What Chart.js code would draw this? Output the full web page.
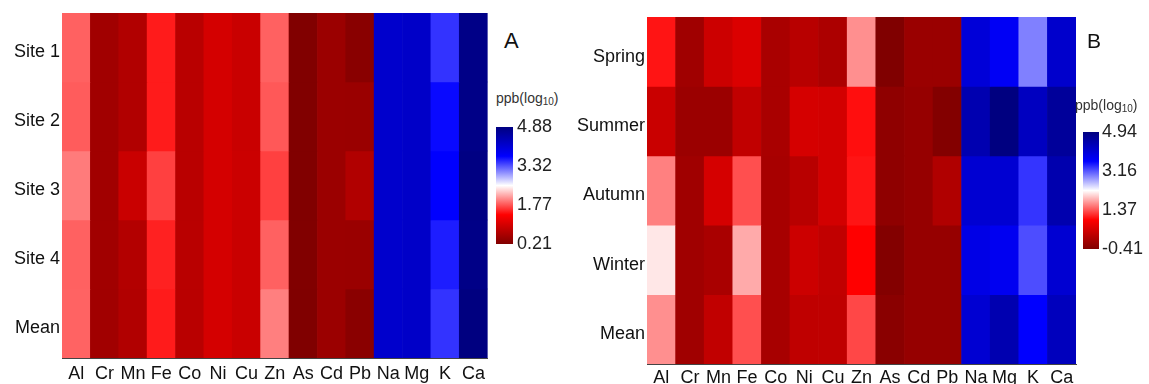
<!DOCTYPE html>
<html>
<head>
<meta charset="utf-8">
<script src="https://cdn.jsdelivr.net/npm/chart.js@4"></script>
<style>
  body { margin: 0; background: #fff; font-family: "Liberation Sans", Arial, sans-serif; }
  #wrap { position: relative; width: 1149px; height: 384px; overflow: hidden; }
  canvas, .txt { position: absolute; }
  .panel { line-height: 1; color: #111; }
  .unit { font-size: 14px; line-height: 1; color: #333; white-space: nowrap; }
  .unit span { font-size: 10px; vertical-align: -2px; }
</style>
</head>
<body>
<div id="wrap">
  <canvas id="heatA" width="490" height="384" style="left:0;top:0"></canvas>
  <canvas id="barA" width="70" height="150" style="left:496px;top:110px"></canvas>
  <canvas id="heatB" width="520" height="384" style="left:560px;top:0"></canvas>
  <canvas id="barB" width="66" height="150" style="left:1083px;top:115px"></canvas>
  <div class="txt panel" style="left:504px;top:30px;font-size:22px">A</div>
  <div class="txt panel" style="left:1087px;top:30px;font-size:21px">B</div>
  <div class="txt unit" style="left:496px;top:91px">ppb(log<span>10</span>)</div>
  <div class="txt unit" style="left:1075px;top:98px">ppb(log<span>10</span>)</div>
</div>
<script>
const elements = ['Al', 'Cr', 'Mn', 'Fe', 'Co', 'Ni', 'Cu', 'Zn', 'As', 'Cd', 'Pb', 'Na', 'Mg', 'K', 'Ca'];

// panel A - sites
const sites = ['Site 1', 'Site 2', 'Site 3', 'Site 4', 'Mean'];
const site1 = [1.82, 0.51, 0.66, 1.50, 0.73, 0.98, 0.88, 1.82, 0.22, 0.46, 0.29, 4.18, 4.22, 3.48, 4.82];
const site2 = [1.80, 0.51, 0.66, 1.50, 0.73, 0.98, 0.88, 1.78, 0.22, 0.46, 0.45, 4.18, 4.22, 3.67, 4.82];
const site3 = [1.94, 0.51, 0.88, 1.67, 0.73, 0.98, 0.90, 1.67, 0.22, 0.46, 0.66, 4.18, 4.22, 3.72, 4.85];
const site4 = [1.82, 0.51, 0.68, 1.53, 0.73, 0.98, 0.88, 1.82, 0.22, 0.46, 0.45, 4.18, 4.22, 3.58, 4.82];
const siteMean = [1.83, 0.51, 0.66, 1.50, 0.73, 0.98, 0.88, 1.96, 0.21, 0.46, 0.30, 4.18, 4.22, 3.48, 4.88];
const scaleA = [0.21, 1.77, 3.32, 4.88];

// panel B - seasons
const seasons = ['Spring', 'Summer', 'Autumn', 'Winter', 'Mean'];
const spring = [1.03, -0.07, 0.39, 0.55, 0.02, 0.18, 0.05, 1.68, -0.41, -0.14, -0.14, 4.01, 3.71, 2.93, 4.14];
const summer = [0.36, -0.13, -0.13, 0.27, 0.02, 0.48, 0.45, 1.00, -0.25, -0.18, -0.38, 4.43, 4.94, 4.27, 4.67];
const autumn = [1.60, -0.07, 0.48, 1.34, 0.00, 0.18, 0.45, 1.03, -0.25, -0.18, 0.10, 4.08, 4.08, 3.33, 4.46];
const winter = [2.14, -0.07, 0.02, 1.82, 0.00, 0.39, 0.27, 0.93, -0.38, -0.18, -0.18, 3.87, 3.75, 3.20, 4.08];
const seasonMean = [1.68, -0.07, 0.27, 1.34, 0.00, 0.25, 0.25, 1.30, -0.30, -0.18, -0.18, 4.08, 4.43, 3.60, 4.30];
const scaleB = [-0.41, 1.37, 3.16, 4.94];

// dark red -> red -> white -> blue -> navy
const stops = [[0, [128, 0, 0]], [0.25, [255, 0, 0]], [0.5, [255, 255, 255]], [0.75, [0, 0, 255]], [1, [0, 0, 128]]];

function colorFor(v, lo, hi) {
  let t = Math.min(1, Math.max(0, (v - lo) / (hi - lo)));
  for (let k = 1; k < stops.length; k++) {
    if (t <= stops[k][0]) {
      const [t0, c0] = stops[k - 1], [t1, c1] = stops[k];
      const f = (t - t0) / (t1 - t0);
      const c = c0.map((a, n) => Math.round(a + (c1[n] - a) * f));
      return `rgb(${c[0]},${c[1]},${c[2]})`;
    }
  }
  return 'rgb(0,0,128)';
}

Chart.defaults.font.family = '"Liberation Sans", Arial, sans-serif';
Chart.defaults.color = '#111';

function heatmap(id, rows, values, ticks, o) {
  const lo = ticks[0], hi = ticks[ticks.length - 1];
  new Chart(document.getElementById(id), {
    type: 'bar',
    data: {
      labels: elements,
      datasets: rows.map((name, i) => ({
        label: name,
        data: values[i].map(() => [i, i + 1]),
        backgroundColor: values[i].map(v => colorFor(v, lo, hi)),
        borderWidth: 0,
        barPercentage: 1,
        categoryPercentage: 1,
        grouped: false
      }))
    },
    options: {
      responsive: false,
      animation: false,
      layout: { padding: { top: o.top, right: o.right, left: 0, bottom: 0 } },
      plugins: { legend: { display: false }, tooltip: { enabled: false } },
      scales: {
        x: {
          z: 1,
          grid: { display: false, drawTicks: false },
          border: { display: true, color: '#444' },
          ticks: { font: { size: 18 }, padding: o.xPad, maxRotation: 0, autoSkip: false },
          afterFit: s => { s.height = o.xh; }
        },
        y: {
          z: 1,
          min: 0,
          max: rows.length,
          reverse: true,
          grid: { display: false, drawTicks: false },
          border: { display: true, color: '#444' },
          afterBuildTicks: s => { s.ticks = rows.map((_, i) => ({ value: i + 0.5 })); },
          ticks: {
            font: { size: 18 },
            padding: 2,
            labelOffset: 5,
            autoSkip: false,
            callback: v => rows[Math.floor(v)]
          },
          afterFit: s => { s.width = o.yw; }
        }
      }
    }
  });
}

function colorbar(id, ticks, o) {
  const lo = ticks[0], hi = ticks[ticks.length - 1];
  new Chart(document.getElementById(id), {
    type: 'bar',
    data: {
      labels: [''],
      datasets: [{
        data: [[lo, hi]],
        borderWidth: 0,
        barPercentage: 1,
        categoryPercentage: 1,
        backgroundColor: c => {
          const area = c.chart.chartArea;
          if (!area) return 'transparent';
          const g = c.chart.ctx.createLinearGradient(0, area.bottom, 0, area.top);
          stops.forEach(([t, rgb]) => g.addColorStop(t, `rgb(${rgb.join(',')})`));
          return g;
        }
      }]
    },
    options: {
      responsive: false,
      animation: false,
      layout: { padding: { top: 17, bottom: 16, left: 0, right: 0 } },
      plugins: { legend: { display: false }, tooltip: { enabled: false } },
      scales: {
        x: { display: false },
        y: {
          position: 'right',
          min: lo,
          max: hi,
          grid: { display: false, drawTicks: false },
          border: { display: false },
          afterBuildTicks: s => { s.ticks = ticks.map(v => ({ value: v })); },
          ticks: { font: { size: 18 }, padding: o.pad, color: '#222', callback: v => v.toFixed(2) },
          afterFit: s => { s.width = o.w; }
        }
      }
    }
  });
}

heatmap('heatA', sites, [site1, site2, site3, site4, siteMean], scaleA,
  { top: 13, right: 1, yw: 62, xh: 26, xPad: 5 });
heatmap('heatB', seasons, [spring, summer, autumn, winter, seasonMean], scaleB,
  { top: 17, right: 4, yw: 87, xh: 20, xPad: 3 });
colorbar('barA', scaleA, { w: 53, pad: 4 });
colorbar('barB', scaleB, { w: 50, pad: 3 });
</script>
</body>
</html>
